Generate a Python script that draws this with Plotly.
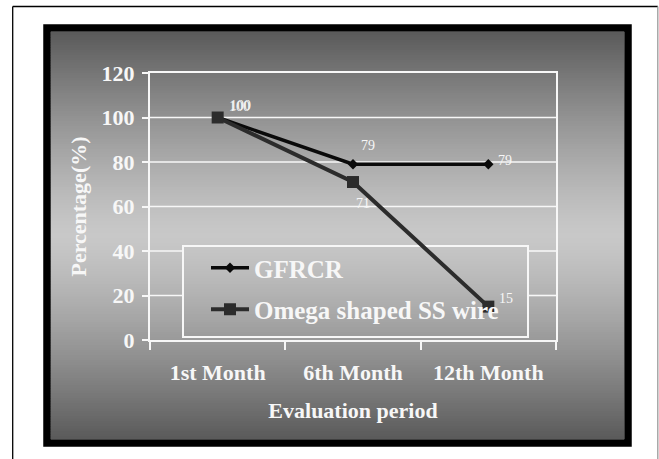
import plotly.graph_objects as go

# ---------------- data ----------------
categories = ["1st Month", "6th Month", "12th Month"]
gfrcr = [100, 79, 79]
omega = [100, 71, 15]
y_ticks = [0, 20, 40, 60, 80, 100, 120]
series_names = ["GFRCR", "Omega shaped SS wire"]

# ---------------- geometry helpers (pixels -> paper) ----------------
W, H = 659, 459
PL, PR, PT, PB = 150, 556, 73, 340  # plot area in pixels


def px(x):
    return (x - PL) / (PR - PL)


def py(y):
    return (PB - y) / (PB - PT)


def shade(y, top=32.0, bot=439.0):
    f = min(max((y - top) / (bot - top), 0.0), 1.0)
    v = 90 + 110 * (1 - abs(2 * f - 1) ** 1.3)
    v = int(round(v))
    return f"rgb({v},{v},{v})"


SERIF = "Liberation Serif, Times New Roman, serif"
WHITE = "#f7f7f7"

fig = go.Figure()

fig.add_trace(go.Scatter(
    x=categories, y=gfrcr, name=series_names[0], mode="lines+markers",
    line=dict(color="#0a0a0a", width=3.5),
    marker=dict(symbol="diamond", size=8, color="#0a0a0a"),
    legendgroup="a", cliponaxis=False,
))
fig.add_trace(go.Scatter(
    x=categories, y=omega, name=series_names[1], mode="lines+markers",
    line=dict(color="#2c2c2c", width=4),
    marker=dict(symbol="square", size=12, color="#2c2c2c"),
    legendgroup="b", cliponaxis=False,
))

shapes = []
# gradient background inside black frame
top, bot, left, right = 32.0, 439.0, 50.7, 624.0
n = 160
step = (bot - top) / n
for i in range(n):
    y0 = top + i * step
    y1 = y0 + step + 0.8
    shapes.append(dict(type="rect", xref="paper", yref="paper", layer="below",
                       x0=px(left), x1=px(right), y0=py(min(y1, bot)), y1=py(y0),
                       fillcolor=shade(y0 + step / 2), line=dict(width=0)))
# black frame
shapes.append(dict(type="rect", xref="paper", yref="paper", layer="below",
                   x0=px(47), x1=px(628), y0=py(443), y1=py(28),
                   line=dict(color="black", width=7.5), fillcolor="rgba(0,0,0,0)"))
# outer thin page lines
shapes.append(dict(type="line", xref="paper", yref="paper", layer="below",
                   x0=px(12.7), x1=px(12.7), y0=py(459), y1=py(6.5),
                   line=dict(color="black", width=1.3)))
shapes.append(dict(type="line", xref="paper", yref="paper", layer="below",
                   x0=px(12.7), x1=px(657.8), y0=py(6.5), y1=py(6.5),
                   line=dict(color="black", width=1.3)))
shapes.append(dict(type="line", xref="paper", yref="paper", layer="below",
                   x0=px(657.8), x1=px(657.8), y0=py(459), y1=py(6.5),
                   line=dict(color="#9a9a9a", width=1.3)))

# legend box (gridlines stop at it)
lb_l, lb_r, lb_t, lb_b = 183, 528, 246, 337
legend_top_val = (PB - lb_t) / (PB - PT) * 120
for t in y_ticks[1:-1]:
    if t < legend_top_val:
        segs = [(0, px(lb_l)), (px(lb_r), 1)]
    else:
        segs = [(0, 1)]
    for a, b in segs:
        shapes.append(dict(type="line", xref="paper", yref="y", layer="below",
                           x0=a, x1=b, y0=t, y1=t,
                           line=dict(color=WHITE, width=1.6)))
shapes.append(dict(type="rect", xref="paper", yref="paper", layer="below",
                   x0=px(lb_l), x1=px(lb_r), y0=py(lb_b), y1=py(lb_t),
                   line=dict(color=WHITE, width=2), fillcolor="rgba(0,0,0,0)"))

# data labels
label_shifts = {
    0: [(22, 11), (15, 19), (17, 4)],
    1: [(23, 12), (10, -21), (18, 8)],
}
annotations = []
for si, vals in enumerate([gfrcr, omega]):
    for ci, (cat, v) in enumerate(zip(categories, vals)):
        dx, dy = label_shifts[si][ci]
        annotations.append(dict(x=cat, y=v, xref="x", yref="y", text=str(v),
                                showarrow=False, xshift=dx, yshift=dy,
                                font=dict(family=SERIF, size=14, color=WHITE)))

fig.update_layout(
    width=W, height=H,
    margin=dict(l=PL, r=W - PR, t=PT, b=H - PB, pad=0),
    paper_bgcolor="white",
    plot_bgcolor="rgba(0,0,0,0)",
    shapes=shapes,
    annotations=annotations,
    showlegend=True,
    legend=dict(x=px(206), y=py(245), xanchor="left", yanchor="top",
                bgcolor="rgba(0,0,0,0)", borderwidth=0,
                font=dict(family=SERIF, size=25, color=WHITE, weight="bold"),
                traceorder="grouped", tracegroupgap=6, itemwidth=38),
    xaxis=dict(
        type="category", range=[-0.5, 2.5], tickson="boundaries",
        showline=True, linecolor=WHITE, linewidth=2, mirror=True,
        ticks="outside", ticklen=8, tickwidth=2, tickcolor=WHITE,
        showgrid=False, zeroline=False,
        tickfont=dict(family=SERIF, size=22, color=WHITE, weight="bold"),
        ticklabelstandoff=12,
        title=dict(text="Evaluation period", standoff=18,
                   font=dict(family=SERIF, size=22, color=WHITE, weight="bold")),
    ),
    yaxis=dict(
        range=[0, 120], tickvals=y_ticks,
        showline=True, linecolor=WHITE, linewidth=2, mirror=True,
        ticks="outside", ticklen=6, tickwidth=2, tickcolor=WHITE,
        showgrid=False, zeroline=False,
        tickfont=dict(family=SERIF, size=22, color=WHITE, weight="bold"),
        ticklabelstandoff=3,
        title=dict(text="Percentage(%)", standoff=9,
                   font=dict(family=SERIF, size=22, color=WHITE, weight="bold")),
    ),
)

fig.write_html("out.html", config={"displayModeBar": False},
               post_script="document.body.style.margin='0px';")
